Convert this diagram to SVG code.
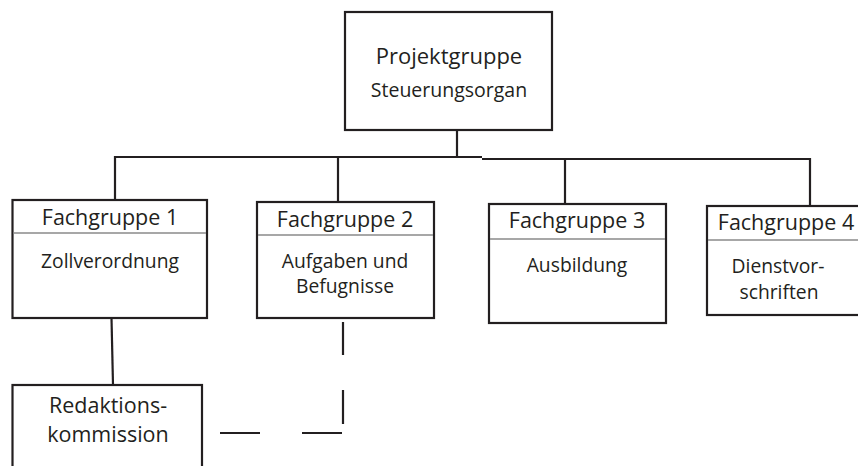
<svg xmlns="http://www.w3.org/2000/svg" width="858" height="466" viewBox="0 0 858 466">
<style>
.box{fill:#fff;stroke:#231f20;stroke-width:2.2}
.sep{stroke:#8a8a8a;stroke-width:1.3}
.ln{stroke:#231f20;stroke-width:2.2;fill:none}
.dash{stroke:#231f20;stroke-width:2.2;fill:none}
text{font-family:"Open Sans","Noto Sans",sans-serif;fill:#231f20;text-anchor:middle}
.h{font-size:21.5px}
.b{font-size:19.3px}
.t{font-size:22px}
.s{font-size:19.5px}
</style>
<rect width="858" height="466" fill="#fff"/>
<g id="connectors">
<line class="ln" x1="457" y1="129" x2="457" y2="156"/>
<polyline class="ln" points="115,200 115,157 482,157"/>
<polyline class="ln" points="482,159 810,159 810,206"/>
<line class="ln" x1="338" y1="157" x2="338" y2="202"/>
<line class="ln" x1="565" y1="159" x2="565" y2="204"/>
<line class="ln" x1="111.5" y1="318" x2="113" y2="385"/>
<line class="dash" x1="343" y1="322" x2="343" y2="355"/>
<line class="dash" x1="343" y1="390" x2="343" y2="424"/>
<line class="dash" x1="220" y1="433" x2="260" y2="433"/>
<line class="dash" x1="302" y1="433" x2="342" y2="433"/>
</g>
<g id="projektgruppe">
<rect class="box" x="345" y="12" width="207" height="118"/>
<text class="t" x="449" y="64">Projektgruppe</text>
<text class="s" x="449" y="97">Steuerungsorgan</text>
</g>
<g id="fachgruppe1">
<rect class="box" x="12.5" y="200" width="194.5" height="118"/>
<line class="sep" x1="13.5" y1="233" x2="206" y2="233"/>
<text class="h" x="110" y="225">Fachgruppe 1</text>
<text class="b" x="110" y="268">Zollverordnung</text>
</g>
<g id="fachgruppe2">
<rect class="box" x="257" y="202" width="177" height="116"/>
<line class="sep" x1="258" y1="235" x2="433" y2="235"/>
<text class="h" x="345" y="227">Fachgruppe 2</text>
<text class="b" x="345" y="268">Aufgaben und</text>
<text class="b" x="345" y="293">Befugnisse</text>
</g>
<g id="fachgruppe3">
<rect class="box" x="489" y="204" width="177" height="119"/>
<line class="sep" x1="490" y1="239" x2="665" y2="239"/>
<text class="h" x="577" y="228">Fachgruppe 3</text>
<text class="b" x="577" y="272">Ausbildung</text>
</g>
<g id="fachgruppe4">
<rect class="box" x="707" y="206" width="160" height="109"/>
<line class="sep" x1="708" y1="240" x2="858" y2="240"/>
<text class="h" x="786" y="230">Fachgruppe 4</text>
<text class="b" x="778" y="273">Dienstvor-</text>
<text class="b" x="779" y="299">schriften</text>
</g>
<g id="redaktionskommission">
<rect class="box" x="12.5" y="385" width="189.5" height="100"/>
<text class="h" x="108" y="413">Redaktions-</text>
<text class="h" x="108" y="442">kommission</text>
</g>
</svg>
